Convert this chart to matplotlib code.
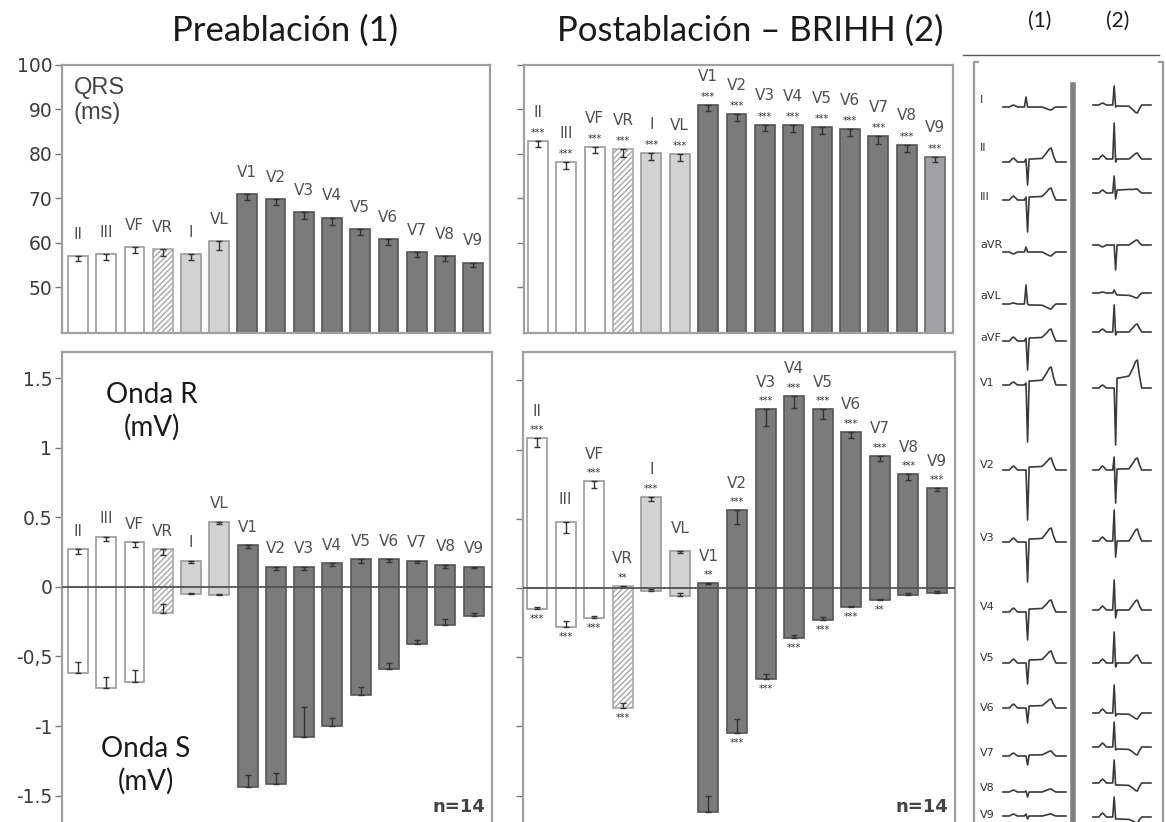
import numpy as np
import matplotlib.pyplot as plt

# ---- data ----
leads = ['II', 'III', 'VF', 'VR', 'I', 'VL', 'V1', 'V2', 'V3', 'V4', 'V5', 'V6', 'V7', 'V8', 'V9']

# QRS duration (ms)
qrs_pre = [57.0, 57.4, 59.0, 58.5, 57.4, 60.3, 70.9, 69.8, 66.9, 65.6, 63.1, 60.8, 57.9, 57.0, 55.5]
qrs_pre_err = [1.0, 1.2, 1.3, 1.5, 1.2, 2.0, 1.2, 1.3, 1.6, 1.5, 1.3, 1.3, 1.1, 1.0, 1.0]
qrs_post = [82.8, 78.1, 81.5, 81.0, 80.1, 79.9, 90.9, 88.9, 86.6, 86.4, 86.0, 85.5, 84.0, 82.1, 79.4]
qrs_post_err = [1.3, 1.5, 1.2, 1.6, 1.5, 1.6, 1.2, 1.5, 1.4, 1.5, 1.5, 1.5, 1.8, 1.6, 1.3]
qrs_post_sig = ['***'] * 15

# R / S wave amplitude (mV)
r_pre = [0.27, 0.36, 0.32, 0.27, 0.19, 0.47, 0.30, 0.145, 0.145, 0.17, 0.20, 0.20, 0.19, 0.16, 0.145]
r_pre_err = [0.03, 0.03, 0.03, 0.04, 0.02, 0.02, 0.02, 0.02, 0.02, 0.02, 0.03, 0.02, 0.02, 0.02, 0.01]
s_pre = [-0.62, -0.73, -0.68, -0.19, -0.05, -0.06, -1.44, -1.42, -1.08, -1.00, -0.78, -0.59, -0.41, -0.27, -0.21]
s_pre_err = [0.08, 0.08, 0.08, 0.07, 0.01, 0.01, 0.09, 0.08, 0.22, 0.06, 0.06, 0.04, 0.03, 0.04, 0.02]

r_post = [1.08, 0.48, 0.77, 0.015, 0.66, 0.27, 0.035, 0.56, 1.29, 1.39, 1.29, 1.13, 0.955, 0.82, 0.72]
r_post_err = [0.06, 0.08, 0.05, 0.01, 0.03, 0.02, 0.01, 0.10, 0.12, 0.09, 0.07, 0.05, 0.04, 0.04, 0.02]
s_post = [-0.15, -0.28, -0.22, -0.87, -0.02, -0.06, -1.62, -1.05, -0.66, -0.36, -0.23, -0.14, -0.09, -0.05, -0.035]
s_post_err = [0.01, 0.04, 0.02, 0.04, 0.01, 0.02, 0.12, 0.10, 0.04, 0.02, 0.02, 0.01, 0.01, 0.01, 0.01]
r_post_sig = ['***', '', '***', '**', '***', '', '**', '***', '***', '***', '***', '***', '***', '***', '***']
s_post_sig = ['***', '***', '***', '***', '', '', '', '***', '***', '***', '***', '***', '**', '', '']

# ECG sketch amplitudes (px): P, R, S, ST, T for each lead, pre (1) and post (2)
ecg_leads = ['I', 'II', 'III', 'aVR', 'aVL', 'aVF', 'V1', 'V2', 'V3', 'V4', 'V5', 'V6', 'V7', 'V8', 'V9']
ecg1_p = [2, 4, 4, -2, 1, 4, 3, 4, 4, 4, 4, 4, 3, 2, 2]
ecg1_r = [10, 3, 3, 5, 19, 3, 2, 0, 0, 0, 0, 0, 0, 1, 2]
ecg1_s = [0, -23, -32, 0, 0, -29, -57, -50, -40, -28, -21, -15, -9, -5, -3]
ecg1_st = [0, 3, 3, 0, -1, 3, 4, 3, 3, 3, 3, 2, 1, 0, 0]
ecg1_t = [-3, 14, 12, -4, -5, 12, 18, 12, 14, 12, 12, 9, 5, 3, 2]
ecg2_p = [2, 4, 3, -2, 1, 3, 3, 4, 4, 4, 4, 4, 4, 4, 4]
ecg2_r = [19, 36, 17, 0, 3, 27, 0, 13, 31, 30, 31, 28, 25, 23, 20]
ecg2_s = [-2, -3, -6, -25, 0, -3, -57, -33, -16, -8, -4, -3, -3, -2, -2]
ecg2_st = [-1, 0, 3, 0, -2, 0, 10, 1, 0, 0, 0, -1, -2, -2, -2]
ecg2_t = [-8, 6, 4, 5, -5, 8, 28, 12, 12, 10, 8, -6, -8, -8, -6]

# ---- layout / style ----
W, H = 1166, 822
fig = plt.figure(figsize=(W / 100, H / 100), dpi=100)
TXT = ['Lato', 'DejaVu Sans']


def px_axes(l, t, r, b):
    return fig.add_axes([l / W, 1 - b / H, (r - l) / W, (b - t) / H])


def bar_style(i, post_top=False):
    lead = leads[i]
    if lead in ('II', 'III', 'VF'):
        return dict(color='white', edgecolor='#9a9a9a', hatch=None)
    if lead == 'VR':
        return dict(color='white', edgecolor='#a8a8a8', hatch='//////')
    if lead in ('I', 'VL'):
        return dict(color='#d2d2d2', edgecolor='#9a9a9a', hatch=None)
    if post_top and lead == 'V9':
        return dict(color='#a0a0a6', edgecolor='#666', hatch=None)
    return dict(color='#7b7b7b', edgecolor='#555', hatch=None)


def frame(ax):
    for sp in ax.spines.values():
        sp.set_color('#a0a0a0')
        sp.set_linewidth(1.6)
    ax.set_xticks([])
    ax.tick_params(axis='y', length=5, width=1, color='#777', labelcolor='#3c3c3c',
                   labelsize=13.5, pad=2)


def lbl(ax, x, y, s, dy, size=11, color='#505050'):
    ax.annotate(s, (x, y), xytext=(0, dy * 0.72), textcoords='offset points',
                ha='center', va='center', fontsize=size, color=color,
                fontfamily='DejaVu Sans')


x = np.arange(len(leads))
bw = 0.7


def qrs_panel(ax, vals, errs, sig, post):
    for i in x:
        ax.bar(i, vals[i] - 30, bottom=30, width=bw, linewidth=1.2, **bar_style(i, post))
        ax.errorbar(i, vals[i], yerr=[[errs[i]], [0]], fmt='none', ecolor='#333',
                    elinewidth=1, capsize=2.5, capthick=1)
        if post:
            lbl(ax, i, vals[i], sig[i], 8, size=7, color='#333')
            lbl(ax, i, vals[i], leads[i], 29)
        else:
            lbl(ax, i, vals[i], leads[i], 22)
    ax.set_ylim(39.7, 100)
    ax.set_yticks([50, 60, 70, 80, 90, 100])
    frame(ax)


def rs_panel(ax, rv, re, sv, se, rsig, ssig, post):
    for i in x:
        st = bar_style(i)
        ax.bar(i, rv[i], width=bw, linewidth=1.2, **st)
        ax.bar(i, sv[i], width=bw, linewidth=1.2, **st)
        ax.errorbar(i, rv[i], yerr=[[re[i]], [0]], fmt='none', ecolor='#333',
                    elinewidth=1, capsize=2.5, capthick=1)
        ax.errorbar(i, sv[i], yerr=[[0], [se[i]]], fmt='none', ecolor='#333',
                    elinewidth=1, capsize=2.5, capthick=1)
        if post:
            if rsig[i]:
                lbl(ax, i, rv[i], rsig[i], 8, size=7, color='#333')
                lbl(ax, i, rv[i], leads[i], 27)
            else:
                lbl(ax, i, rv[i], leads[i], 22)
            if ssig[i]:
                lbl(ax, i, sv[i], ssig[i], -10, size=7, color='#333')
        else:
            lbl(ax, i, rv[i], leads[i], 18)
    ax.axhline(0, color='#555', lw=1.3, zorder=5)
    frame(ax)
    ax.text(0.985, 0.03, 'n=14', transform=ax.transAxes, ha='right', va='bottom',
            fontsize=13, color='#444', fontweight='bold', fontfamily='DejaVu Sans')


# top left: QRS pre
ax1 = px_axes(62, 65, 490, 333)
qrs_panel(ax1, qrs_pre, qrs_pre_err, None, False)
ax1.set_xlim(-0.57, 14.6)
ax1.text(0.028, 0.955, 'QRS\n(ms)', transform=ax1.transAxes, ha='left', va='top',
         fontsize=17, color='#444', linespacing=1.2, fontfamily='Liberation Sans')

# top right: QRS post
ax2 = px_axes(524, 65, 953, 333)
qrs_panel(ax2, qrs_post, qrs_post_err, qrs_post_sig, True)
ax2.set_xlim(-0.49, 14.63)
ax2.set_yticklabels([])

# bottom left: R/S pre
ax3 = px_axes(62, 352, 492, 830)
rs_panel(ax3, r_pre, r_pre_err, s_pre, s_pre_err, None, None, False)
ax3.set_xlim(-0.57, 14.65)
ax3.set_ylim(-1.748, 1.69)
ax3.set_yticks([1.5, 1, 0.5, 0, -0.5, -1, -1.5])
ax3.set_yticklabels(['1.5', '1', '0.5', '0', '-0,5', '-1', '-1.5'])
ax3.text(0.21, 0.876, 'Onda R\n(mV)', transform=ax3.transAxes, ha='center', va='center',
         fontsize=20, color='#1a1a1a', family=TXT, linespacing=1.25)
ax3.text(0.195, 0.135, 'Onda S\n(mV)', transform=ax3.transAxes, ha='center', va='center',
         fontsize=20, color='#1a1a1a', family=TXT, linespacing=1.25)

# bottom right: R/S post
ax4 = px_axes(523, 352, 955, 830)
rs_panel(ax4, r_post, r_post_err, s_post, s_post_err, r_post_sig, s_post_sig, True)
ax4.set_xlim(-0.49, 14.63)
ax4.set_ylim(-1.749, 1.705)
ax4.set_yticks([1.5, 1, 0.5, 0, -0.5, -1, -1.5])
ax4.set_yticklabels([])

# titles
fig.text(285 / W, 1 - 31 / H, 'Preablación (1)', ha='center', va='center',
         fontsize=25, color='#1a1a1a', family=TXT)
fig.text(750 / W, 1 - 31 / H, 'Postablación – BRIHH (2)', ha='center', va='center',
         fontsize=25, color='#1a1a1a', family=TXT)
fig.text(1040 / W, 1 - 21 / H, '(1)', ha='center', va='center', fontsize=15,
         color='#1a1a1a', family=TXT)
fig.text(1118 / W, 1 - 21 / H, '(2)', ha='center', va='center', fontsize=15,
         color='#1a1a1a', family=TXT)

# ECG strip, drawn in pixel space
ax5 = fig.add_axes([0, 0, 1, 1])
ax5.set_xlim(0, W)
ax5.set_ylim(H, 0)
ax5.axis('off')
ax5.plot([963, 1159], [55, 55], color='#555', lw=1)
ax5.plot([978, 974, 974], [62, 62, H], color='#999', lw=1.6)
ax5.plot([1159, 1163, 1163], [62, 62, H], color='#999', lw=1.6)
ax5.plot([1073, 1073], [85, H], color='#808080', lw=4)

rows1 = [107, 162, 200, 252, 304, 341, 385, 470, 542, 612, 663, 708, 756, 792, 816]
rows2 = [105, 159, 193, 245, 293, 332, 388, 470, 541, 610, 663, 713, 747, 783, 817]
lab_y = [100, 148, 197, 245, 296, 338, 383, 465, 538, 607, 658, 708, 753, 788, 815]

# beat template (time fractions) shared by all traces
tf = np.array([0, .10, .135, .165, .195, .23, .34, .365, .39, .415, .45,
               .62, .69, .735, .765, .80, .84, 1.0])


def beat(x0, x1, y0, p, r, s, st, t):
    amp = np.array([0, 0, .6 * p, p, .6 * p, 0, 0, r, s, st, st, st * 1.2,
                    st + (t - st) * .55, st + (t - st) * .92, t, .45 * t, 0, 0], float)
    xs = x0 + tf * (x1 - x0)
    ax5.plot(xs, y0 - amp, color='#3a3a3a', lw=1.2, solid_joinstyle='round')


for k, name in enumerate(ecg_leads):
    ax5.text(980, lab_y[k], name, fontsize=8, color='#333', va='center', ha='left',
             fontfamily='DejaVu Sans')
    beat(1003, 1066, rows1[k], ecg1_p[k], ecg1_r[k], ecg1_s[k], ecg1_st[k], ecg1_t[k])
    beat(1093, 1151, rows2[k], ecg2_p[k], ecg2_r[k], ecg2_s[k], ecg2_st[k], ecg2_t[k])

fig.savefig('out.png', dpi=100)
